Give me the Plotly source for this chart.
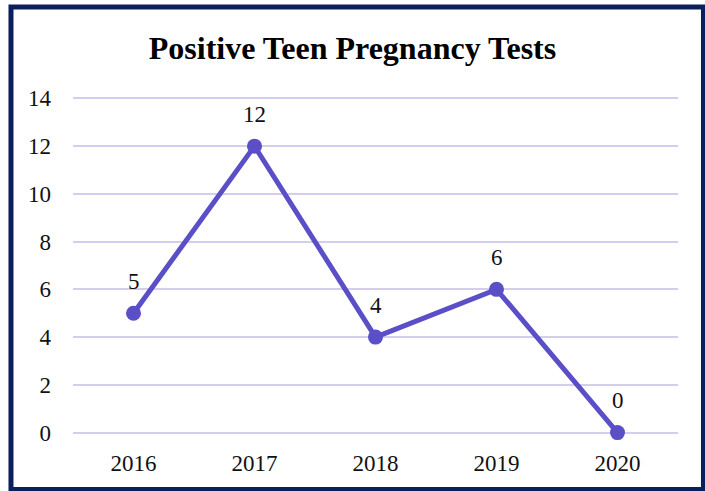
import plotly.graph_objects as go

years = ["2016", "2017", "2018", "2019", "2020"]
tests = [5, 12, 4, 6, 0]

fig = go.Figure()

fig.add_trace(go.Scatter(
    x=years, y=tests,
    mode="lines+markers",
    line=dict(color="#5b4fc7", width=5),
    marker=dict(color="#5b4fc7", size=15),
    cliponaxis=False,
    showlegend=False,
))

# value labels floating above each point (category axis -> use index)
for i, v in enumerate(tests):
    fig.add_annotation(x=i, y=v, text=str(v), showarrow=False,
                       yanchor="middle", yshift=32,
                       font=dict(family="Liberation Serif", size=23, color="#111111"))

fig.update_layout(
    width=705, height=491,
    margin=dict(l=73, r=27, t=96, b=56),
    paper_bgcolor="white",
    plot_bgcolor="white",
    title=dict(text="<b>Positive Teen Pregnancy Tests</b>", x=0.5, xanchor="center",
               y=0.902, yanchor="middle",
               font=dict(family="Liberation Serif", size=32, color="#000000")),
    font=dict(family="Liberation Serif", size=23, color="#111111"),
    # dark navy frame around the chart
    shapes=[dict(type="rect", xref="paper", yref="paper",
                 x0=-0.1025, x1=1.0421, y0=-0.1608, y1=1.2625,
                 line=dict(color="#0b1f5c", width=5), layer="below")],
)

fig.update_xaxes(type="category", range=[-0.5, 4.5], showgrid=False, showline=False,
                 zeroline=False, ticks="", ticklabelstandoff=12,
                 tickfont=dict(size=23))
# range padded a little so the 0 and 14 gridlines are still drawn
fig.update_yaxes(range=[-0.1, 14.1], tickvals=[0, 2, 4, 6, 8, 10, 12, 14],
                 showgrid=True, gridcolor="#d4cdee", gridwidth=2,
                 zeroline=False, showline=False, ticks="", ticklabelstandoff=21,
                 tickfont=dict(size=23))

fig.write_html("out.html", config={"displayModeBar": False},
               post_script="document.body.style.margin='0';")
